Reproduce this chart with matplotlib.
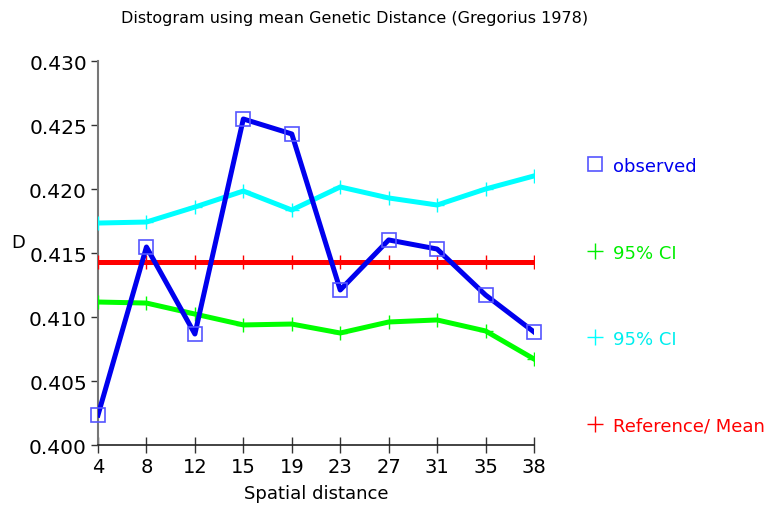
import matplotlib
matplotlib.use("Agg")
import matplotlib.pyplot as plt
from matplotlib.lines import Line2D

categories = ["4", "8", "12", "15", "19", "23", "27", "31", "35", "38"]
observed = [0.40234, 0.41547, 0.40867, 0.42547, 0.42430, 0.41211, 0.41602, 0.41531, 0.41172, 0.40883]
ci_upper = [0.41734, 0.41742, 0.41859, 0.41984, 0.41836, 0.42016, 0.41930, 0.41875, 0.42000, 0.42102]
ci_lower = [0.41117, 0.41109, 0.41023, 0.40938, 0.40945, 0.40875, 0.40961, 0.40977, 0.40891, 0.40672]
mean_ref = [0.41430] * 10
yticks = [0.400, 0.405, 0.410, 0.415, 0.420, 0.425, 0.430]

plt.rcParams['font.family'] = ['DejaVu Sans']

fig = plt.figure(figsize=(7.73, 5.06), dpi=100)
ax = fig.add_axes([98/773, 1-446/506, (534-98)/773, (446-62)/506])

x = list(range(len(categories)))
lw = 3.6
ax.plot(x, ci_upper, color="#00ffff", lw=lw, marker="+", ms=10, mew=1, solid_joinstyle="round", zorder=3)
ax.plot(x, ci_lower, color="#00ff00", lw=lw, marker="+", ms=10, mew=1, solid_joinstyle="round", zorder=3)
ax.plot(x, mean_ref, color="#ff0000", lw=lw, marker="+", ms=10, mew=1, zorder=3)
ax.plot(x, observed, color="#0000ee", lw=lw, solid_joinstyle="round", zorder=4)
ax.plot(x, observed, ls="none", marker="s", ms=10.5, mfc="none", mec="#5555ff", mew=1.2, zorder=5, clip_on=False)

ax.set_xlim(0, len(categories)-1)
ax.set_ylim(0.400, 0.430)
ax.set_xticks(x)
ax.set_xticklabels(categories, fontsize=14)
ax.set_yticks(yticks)
ax.set_yticklabels([f"{v:.3f}" for v in yticks], fontsize=14.5)
ax.tick_params(axis='x', direction='inout', length=12, width=1, color='#333333', pad=3)
ax.tick_params(axis='y', direction='out', length=5, width=1, color='#333333', pad=3)
for s in ['top', 'right']:
    ax.spines[s].set_visible(False)
ax.spines['left'].set_color('#777777')
ax.spines['left'].set_linewidth(1.5)
ax.spines['bottom'].set_color('#222222')
ax.spines['bottom'].set_linewidth(1.2)

fig.text(355/773, 1-18/506, "Distogram using mean Genetic Distance (Gregorius 1978)", ha='center', va='center', fontsize=11.5)
fig.text(316/773, 1-494/506, "Spatial distance", ha='center', va='center', fontsize=13)
fig.text(18/773, 1-243/506, "D", ha='center', va='center', fontsize=13)

legend_items = [
    ("observed", "#0000ee", "s", "#5555ff", 167),
    ("95% CI", "#00ee00", "+", "#00ee00", 254),
    ("95% CI", "#00eeee", "+", "#00ffff", 340),
    ("Reference/ Mean", "#ff0000", "+", "#ff0000", 427),
]
for label, tcol, mk, mcol, ypix in legend_items:
    yf = 1 - ypix/506
    if mk == "s":
        fig.add_artist(Line2D([595/773], [yf+2/506], marker="s", ms=9.5, mfc="none", mec=mcol, mew=1.2, ls="none", transform=fig.transFigure))
    else:
        fig.add_artist(Line2D([595/773], [yf+2/506], marker="+", ms=11, mec=mcol, mew=1, ls="none", transform=fig.transFigure))
    fig.text(613/773, yf, label, color=tcol, ha='left', va='center', fontsize=13)

fig.savefig("out.png", dpi=100)
